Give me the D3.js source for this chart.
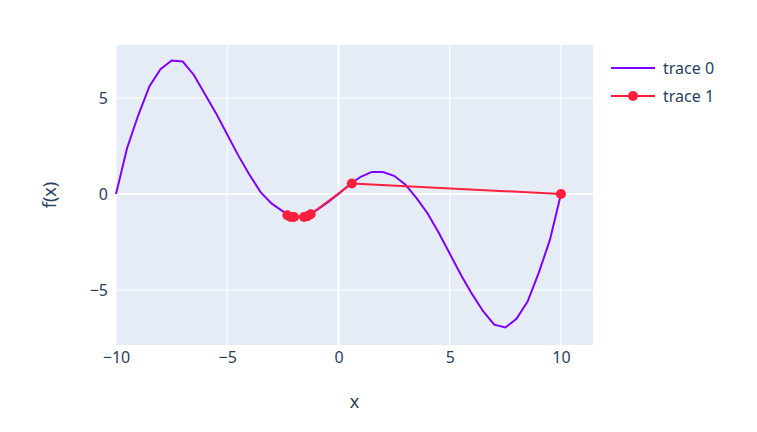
<!DOCTYPE html>
<html><head><meta charset="utf-8">
<script src="https://cdn.jsdelivr.net/npm/d3@7"></script>
<style>body{margin:0;background:#fff}text{font-family:"Noto Sans","Open Sans",sans-serif;fill:#2a3f5f}</style>
</head><body><svg id="c" width="757" height="432"></svg>
<script>
const x0 = [-10,-9.5,-9,-8.5,-8,-7.5,-7,-6.5,-6,-5.5,-5,-4.5,-4,-3.5,-3,-2.5,-2,-1.5,-1,-0.5,0,0.5,1,1.5,2,2.5,3,3.5,4,4.5,5,5.5,6,6.5,7,7.5,8,8.5,9,9.5,10];
const y0 = [0,2.4,4.1,5.6,6.5,6.95,6.9,6.2,5.2,4.2,3.1,2.0,1.0,0.1,-0.5,-0.9,-1.15,-1.2,-0.85,-0.45,0,0.5,0.9,1.15,1.15,0.95,0.5,-0.2,-1.0,-2.0,-3.1,-4.2,-5.2,-6.1,-6.8,-6.95,-6.5,-5.6,-4.1,-2.4,0];
const x1 = [-2.3,-2.15,-2.0,-1.55,-1.4,-1.25,0.6,10];
const y1 = [-1.1,-1.2,-1.2,-1.2,-1.15,-1.05,0.55,0];
const xTicks = [-10,-5,0,5,10];
const yTicks = [-5,0,5];
const names = ["trace 0","trace 1"];
const colors = ["#7f00ff","#ff1f3d"];

const svg = d3.select("#c");
const L=116,R=593,T=45,B=345;
const x = d3.scaleLinear().domain([-10,11.44]).range([L,R]);
const y = d3.scaleLinear().domain([-7.86,7.76]).range([B,T]);
svg.append("rect").attr("x",L).attr("y",T).attr("width",R-L).attr("height",B-T).attr("fill","#e5ecf6");
const g = svg.append("g");
xTicks.forEach(t=>g.append("line").attr("x1",x(t)).attr("x2",x(t)).attr("y1",T).attr("y2",B).attr("stroke","#fff").attr("stroke-width",t===0?2:1));
yTicks.forEach(t=>g.append("line").attr("y1",y(t)).attr("y2",y(t)).attr("x1",L).attr("x2",R).attr("stroke","#fff").attr("stroke-width",t===0?2:1));
const fmt = d=>d<0?"\u2212"+Math.abs(d):String(d);
const xa = svg.append("g").attr("transform",`translate(0,${B})`).call(d3.axisBottom(x).tickValues(xTicks).tickSize(0).tickPadding(7).tickFormat(fmt));
const ya = svg.append("g").attr("transform",`translate(${L},0)`).call(d3.axisLeft(y).tickValues(yTicks).tickSize(0).tickPadding(8).tickFormat(fmt));
[xa,ya].forEach(a=>{a.select(".domain").remove();a.selectAll("text").style("font-size","16px").attr("fill","#2a3f5f");});
svg.append("text").attr("x",(L+R)/2).attr("y",408).attr("text-anchor","middle").style("font-size","18px").text("x");
svg.append("text").attr("transform",`translate(56,${(T+B)/2}) rotate(-90)`).attr("text-anchor","middle").style("font-size","18px").text("f(x)");
const line = d3.line().x(d=>x(d[0])).y(d=>y(d[1]));
svg.append("path").datum(x0.map((v,i)=>[v,y0[i]])).attr("d",line).attr("fill","none").attr("stroke",colors[0]).attr("stroke-width",2);
const p1 = x1.map((v,i)=>[v,y1[i]]);
svg.append("path").datum(p1).attr("d",line).attr("fill","none").attr("stroke",colors[1]).attr("stroke-width",2);
svg.selectAll(".m").data(p1).enter().append("circle").attr("cx",d=>x(d[0])).attr("cy",d=>y(d[1])).attr("r",5).attr("fill",colors[1]);
names.forEach((n,i)=>{
  const yy=68+i*28;
  svg.append("line").attr("x1",611).attr("x2",655).attr("y1",yy).attr("y2",yy).attr("stroke",colors[i]).attr("stroke-width",2);
  if(i===1) svg.append("circle").attr("cx",633).attr("cy",yy).attr("r",5).attr("fill",colors[i]);
  svg.append("text").attr("x",663).attr("y",yy+6).style("font-size","16px").text(n);
});
</script></body></html>
